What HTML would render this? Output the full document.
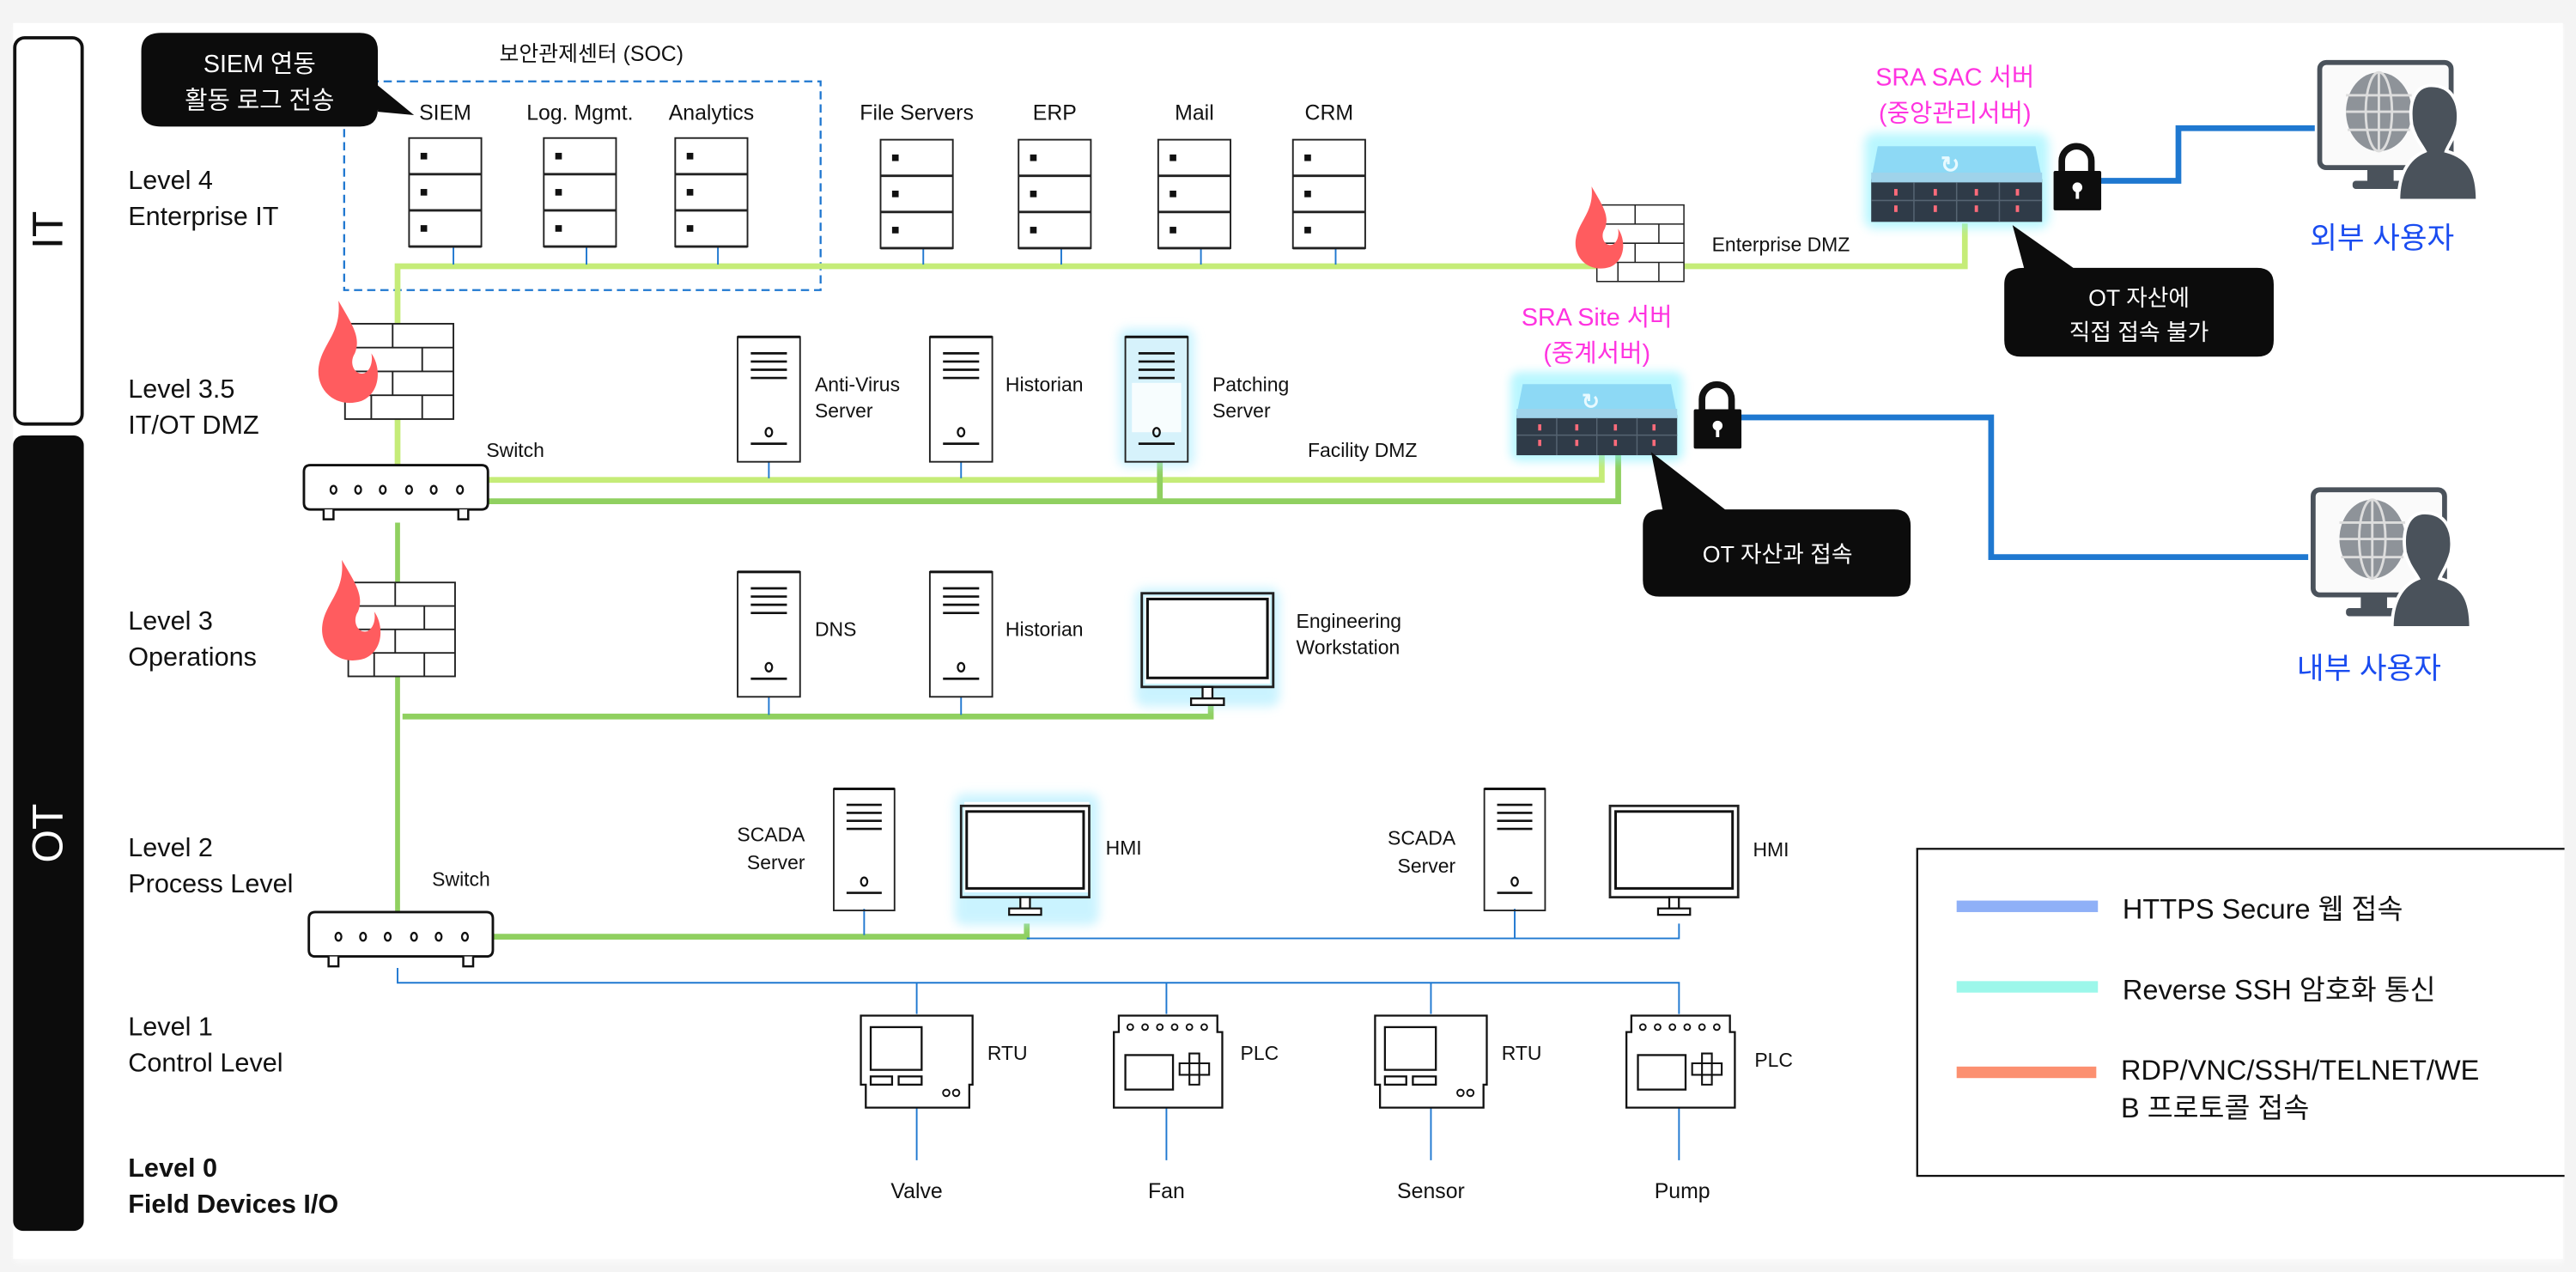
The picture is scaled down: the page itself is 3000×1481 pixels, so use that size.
<!DOCTYPE html>
<html><head><meta charset="utf-8">
<style>
html,body{margin:0;padding:0;background:#f4f4f4;}
svg{display:block;}
text{font-family:"Liberation Sans","Noto Sans CJK KR",sans-serif;}
</style></head>
<body>
<svg width="3000" height="1481" viewBox="0 0 1568 774" preserveAspectRatio="none" xmlns="http://www.w3.org/2000/svg">
<defs>
<filter id="glow" x="-30%" y="-30%" width="160%" height="160%"><feGaussianBlur stdDeviation="3"/></filter>
<filter id="sh" x="-10%" y="-10%" width="120%" height="120%"><feGaussianBlur stdDeviation="2"/></filter>
<symbol id="rack" viewBox="0 0 44 66" overflow="visible">
<rect x="0" y="0" width="44" height="66" fill="#fff" stroke="#222" stroke-width="1"/>
<line x1="0" y1="22" x2="44" y2="22" stroke="#222" stroke-width="1.5"/>
<line x1="0" y1="44" x2="44" y2="44" stroke="#222" stroke-width="1.5"/>
<line x1="0" y1="66" x2="44" y2="66" stroke="#222" stroke-width="1.5"/>
<rect x="7" y="9" width="4" height="4" fill="#111"/><rect x="7" y="31" width="4" height="4" fill="#111"/><rect x="7" y="53" width="4" height="4" fill="#111"/>
</symbol>
<symbol id="tower" viewBox="0 0 38 76" overflow="visible">
<rect x="0" y="0" width="38" height="76" fill="none" stroke="#222" stroke-width="1"/>
<line x1="0" y1="0" x2="38" y2="0" stroke="#111" stroke-width="1.6"/>
<g stroke="#111" stroke-width="1.4"><line x1="8" y1="10" x2="30" y2="10"/><line x1="8" y1="15" x2="30" y2="15"/><line x1="8" y1="20" x2="30" y2="20"/><line x1="8" y1="25" x2="30" y2="25"/><line x1="8" y1="65" x2="30" y2="65"/></g>
<ellipse cx="19" cy="58" rx="2" ry="2.6" fill="none" stroke="#111" stroke-width="1.2"/>
</symbol>
<symbol id="mon" viewBox="0 0 80 70" overflow="visible">
<rect x="0" y="0" width="80" height="57" fill="none" stroke="#222" stroke-width="1.5"/>
<rect x="3.5" y="3.5" width="73" height="48" fill="none" stroke="#111" stroke-width="1.6"/>
<rect x="37" y="57" width="6" height="7" fill="#fff" stroke="#111" stroke-width="1.2"/>
<rect x="30" y="64" width="20" height="4" fill="#fff" stroke="#111" stroke-width="1.2"/>
</symbol>
<symbol id="fw" viewBox="0 0 66 58" overflow="visible">
<g fill="#fff" stroke="#222" stroke-width="1"><rect x="0" y="0" width="66" height="58"/></g>
<g stroke="#222" stroke-width="1">
<line x1="0" y1="14.5" x2="66" y2="14.5"/><line x1="0" y1="29" x2="66" y2="29"/><line x1="0" y1="43.5" x2="66" y2="43.5"/>
<line x1="29" y1="0" x2="29" y2="14.5"/><line x1="47" y1="14.5" x2="47" y2="29"/><line x1="29" y1="29" x2="29" y2="43.5"/>
<line x1="16" y1="43.5" x2="16" y2="58"/><line x1="47" y1="43.5" x2="47" y2="58"/>
</g>
<path d="M-4,-14 C4,0 10,8 6,18 C2,24 6,32 12,30 C16,28 17,22 16,18 C22,26 22,42 10,47 C-6,52 -18,40 -16,26 C-14,12 -2,6 -4,-14 Z" fill="#ff5c5f"/>
</symbol>
<symbol id="sw" viewBox="0 0 112 36" overflow="visible">
<path d="M4,0 H108 Q112,0 112,4 V23 Q112,27 108,27 H4 Q0,27 0,23 V4 Q0,0 4,0 Z" fill="#fff" stroke="#111" stroke-width="1.5"/>
<path d="M12,27 V33 H18 V27 M94,27 V33 H100 V27" fill="#fff" stroke="#111" stroke-width="1.3"/>
<g fill="none" stroke="#111" stroke-width="1.2"><ellipse cx="18" cy="15" rx="1.8" ry="2.4"/><ellipse cx="33" cy="15" rx="1.8" ry="2.4"/><ellipse cx="48" cy="15" rx="1.8" ry="2.4"/><ellipse cx="64" cy="15" rx="1.8" ry="2.4"/><ellipse cx="79" cy="15" rx="1.8" ry="2.4"/><ellipse cx="95" cy="15" rx="1.8" ry="2.4"/></g>
</symbol>
<symbol id="rtu" viewBox="0 0 68 56" overflow="visible">
<path d="M0,0 H68 V42 H66 V56 H3 V42 H0 Z" fill="#fff" stroke="#111" stroke-width="1.2"/>
<rect x="6" y="7" width="31" height="26" fill="none" stroke="#111" stroke-width="1.2"/>
<rect x="6" y="37" width="13" height="5" fill="none" stroke="#111" stroke-width="1.2"/><rect x="23" y="37" width="14" height="5" fill="none" stroke="#111" stroke-width="1.2"/>
<circle cx="52" cy="47" r="2" fill="none" stroke="#111" stroke-width="1"/><circle cx="58" cy="47" r="2" fill="none" stroke="#111" stroke-width="1"/>
</symbol>
<symbol id="plc" viewBox="0 0 66 56" overflow="visible">
<path d="M3,0 H63 V10 H66 V56 H0 V10 H3 Z" fill="#fff" stroke="#111" stroke-width="1.2"/>
<g fill="none" stroke="#111" stroke-width="1"><circle cx="10" cy="7" r="1.8"/><circle cx="19" cy="7" r="1.8"/><circle cx="28" cy="7" r="1.8"/><circle cx="37" cy="7" r="1.8"/><circle cx="46" cy="7" r="1.8"/><circle cx="55" cy="7" r="1.8"/></g>
<rect x="7" y="24" width="29" height="21" fill="none" stroke="#111" stroke-width="1.2"/>
<path d="M46,23 H52 V29 H58 V36 H52 V42 H46 V36 H40 V29 H46 Z M46,29 H52 V36 H46 Z" fill="none" stroke="#111" stroke-width="1.1"/>
</symbol>
<symbol id="sra" viewBox="0 0 104 50" overflow="visible">
<rect x="-4" y="-4" width="112" height="58" rx="6" fill="#7ff0ff" opacity="0.55" filter="url(#glow)"/>
<path d="M4,4 L100,4 L104,24 L0,24 Z" fill="#8dd9f5"/>
<rect x="0" y="24" width="104" height="26" fill="#2f3b48"/>
<rect x="0" y="20" width="104" height="6" fill="#9fd3ea"/>
<text x="48" y="20" font-size="14" fill="#e8faff" font-weight="bold" text-anchor="middle">&#x21bb;</text>
<g fill="#ff6b7a"><rect x="14" y="30" width="2" height="4"/><rect x="38" y="30" width="2" height="4"/><rect x="63" y="30" width="2" height="4"/><rect x="88" y="30" width="2" height="4"/><rect x="14" y="40" width="2" height="4"/><rect x="38" y="40" width="2" height="4"/><rect x="63" y="40" width="2" height="4"/><rect x="88" y="40" width="2" height="4"/></g>
<g stroke="#566472" stroke-width="0.8"><line x1="26" y1="26" x2="26" y2="50"/><line x1="52" y1="26" x2="52" y2="50"/><line x1="78" y1="26" x2="78" y2="50"/><line x1="0" y1="37" x2="104" y2="37"/></g>
</symbol>
<symbol id="lock" viewBox="0 0 32 42" overflow="visible">
<path d="M7,18 V11 A9,9 0 0 1 25,11 V18" fill="none" stroke="#111" stroke-width="4"/>
<rect x="2" y="17" width="29" height="24" rx="1" fill="#0d0d0d"/>
<circle cx="16.5" cy="27" r="3" fill="#fff"/><rect x="15.5" y="28" width="2" height="6" fill="#fff"/>
</symbol>
<symbol id="user" viewBox="0 0 110 100" overflow="visible">
<rect x="4" y="4" width="80" height="64" rx="4" fill="#fafafa" stroke="#4a525b" stroke-width="3"/>
<rect x="33" y="68" width="16" height="10" fill="#4a525b"/><rect x="24" y="76" width="34" height="5" rx="2" fill="#4a525b"/>
<ellipse cx="40" cy="34" rx="20" ry="24" fill="#8e9399"/>
<g stroke="#ddd" stroke-width="1.5" fill="none"><ellipse cx="40" cy="34" rx="8" ry="24"/><line x1="40" y1="10" x2="40" y2="58"/><line x1="20" y1="24" x2="60" y2="24"/><line x1="20" y1="34" x2="60" y2="34"/><line x1="21" y1="45" x2="59" y2="45"/></g>
<path d="M72,18 C84,18 90,28 88,42 C86,50 82,55 81,58 C96,62 100,72 100,88 L52,88 C52,72 58,62 68,58 C66,54 62,50 60,42 C58,28 62,18 72,18 Z" fill="#4a525b" stroke="#fff" stroke-width="2"/>
</symbol>
</defs>

<rect x="9" y="16" width="1552" height="752" fill="#fff" filter="url(#sh)" opacity="0.6"/>
<rect x="8" y="14" width="1552" height="752" fill="#fff"/>

<rect x="9" y="23" width="41" height="235" rx="6" fill="#fff" stroke="#111" stroke-width="2"/>
<text transform="translate(38,140) rotate(-90)" font-size="26" text-anchor="middle" fill="#111">IT</text>
<rect x="8" y="265" width="43" height="484" rx="6" fill="#0c0c0c"/>
<text transform="translate(38,507) rotate(-90)" font-size="26" text-anchor="middle" fill="#fff">OT</text>

<g font-size="16" fill="#111">
<text x="78" y="115">Level 4</text><text x="78" y="137">Enterprise IT</text>
<text x="78" y="242">Level 3.5</text><text x="78" y="264">IT/OT DMZ</text>
<text x="78" y="383">Level 3</text><text x="78" y="405">Operations</text>
<text x="78" y="521">Level 2</text><text x="78" y="543">Process Level</text>
<text x="78" y="630">Level 1</text><text x="78" y="652">Control Level</text>
<text x="78" y="716" font-weight="bold">Level 0</text><text x="78" y="738" font-weight="bold">Field Devices I/O</text>
</g>

<rect x="209.5" y="49.5" width="290" height="127" fill="none" stroke="#1f77d0" stroke-width="1.2" stroke-dasharray="5,3"/>
<text x="360" y="37" font-size="13" text-anchor="middle" fill="#111">보안관제센터 (SOC)</text>

<path d="M98,20 H219 Q230,20 230,31 V52 L252,70 L230,68 V66 Q230,77 219,77 H98 Q86,77 86,66 V31 Q86,20 98,20 Z" fill="#0c0c0c"/>
<text x="158" y="44" font-size="15" fill="#fff" text-anchor="middle">SIEM 연동</text>
<text x="158" y="66" font-size="15" fill="#fff" text-anchor="middle">활동 로그 전송</text>

<polyline points="242,285 242,162 1196,162 1196,136" fill="none" stroke="#c5ec78" stroke-width="3.5"/>
<g font-size="13" fill="#111" text-anchor="middle">
<text x="271" y="73">SIEM</text><text x="353" y="73">Log. Mgmt.</text><text x="433" y="73">Analytics</text>
<text x="558" y="73">File Servers</text><text x="642" y="73">ERP</text><text x="727" y="73">Mail</text><text x="809" y="73">CRM</text>
</g>
<g stroke="#1f77d0" stroke-width="1">
<line x1="276" y1="150" x2="276" y2="161"/><line x1="357" y1="150" x2="357" y2="161"/><line x1="437" y1="150" x2="437" y2="161"/>
<line x1="562" y1="150" x2="562" y2="161"/><line x1="646" y1="150" x2="646" y2="161"/><line x1="731" y1="150" x2="731" y2="161"/><line x1="813" y1="150" x2="813" y2="161"/>
</g>
<use href="#rack" x="249" y="84" width="44" height="66"/>
<use href="#rack" x="331" y="84" width="44" height="66"/>
<use href="#rack" x="411" y="84" width="44" height="66"/>
<use href="#rack" x="536" y="85" width="44" height="66"/>
<use href="#rack" x="620" y="85" width="44" height="66"/>
<use href="#rack" x="705" y="85" width="44" height="66"/>
<use href="#rack" x="787" y="85" width="44" height="66"/>

<use href="#fw" x="972" y="124" width="53" height="48"/>
<text x="1042" y="153" font-size="12" fill="#111">Enterprise DMZ</text>

<text x="1190" y="52" font-size="15" fill="#ff33e0" text-anchor="middle">SRA SAC 서버</text>
<text x="1190" y="74" font-size="15" fill="#ff33e0" text-anchor="middle">(중앙관리서버)</text>
<use href="#sra" x="1139" y="85" width="104" height="50"/>
<polyline points="1270,110 1326,110 1326,78 1409,78" fill="none" stroke="#1f78d0" stroke-width="3.5"/>
<use href="#lock" x="1248" y="87" width="32" height="42"/>
<use href="#user" x="1408" y="34" width="110" height="100"/>
<text x="1450" y="151" font-size="18" fill="#1a4cf0" text-anchor="middle">외부 사용자</text>

<path d="M1232,163 L1225,137 L1262,163 H1374 Q1384,163 1384,173 V207 Q1384,217 1374,217 H1230 Q1220,217 1220,207 V173 Q1220,163 1232,163 Z" fill="#0c0c0c"/>
<text x="1302" y="186" font-size="14" fill="#fff" text-anchor="middle">OT 자산에</text>
<text x="1302" y="207" font-size="14" fill="#fff" text-anchor="middle">직접 접속 불가</text>

<use href="#fw" x="210" y="197" width="66" height="58"/>
<text x="296" y="278" font-size="12" fill="#111">Switch</text>
<polyline points="297,292 975,292 975,275" fill="none" stroke="#c5ec78" stroke-width="3.5"/>
<polyline points="297,305 985,305 985,275" fill="none" stroke="#90d060" stroke-width="3.5"/>
<line x1="706" y1="280" x2="706" y2="305" stroke="#90d060" stroke-width="3.5"/>
<line x1="468" y1="281" x2="468" y2="291" stroke="#1f77d0" stroke-width="1"/>
<line x1="585" y1="281" x2="585" y2="291" stroke="#1f77d0" stroke-width="1"/>
<use href="#sw" x="185" y="283" width="112" height="36"/>
<use href="#tower" x="449" y="205" width="38" height="76"/>
<use href="#tower" x="566" y="205" width="38" height="76"/>
<rect x="681" y="200" width="46" height="84" rx="5" fill="#a8ecff" opacity="0.6" filter="url(#glow)"/>
<rect x="685" y="205" width="38" height="76" fill="#d6f2fb"/>
<rect x="689" y="233" width="30" height="30" fill="#fff" opacity="0.8"/>
<use href="#tower" x="685" y="205" width="38" height="76"/>
<g font-size="12" fill="#111">
<text x="496" y="238">Anti-Virus</text><text x="496" y="254">Server</text>
<text x="612" y="238">Historian</text>
<text x="738" y="238">Patching</text><text x="738" y="254">Server</text>
<text x="796" y="278">Facility DMZ</text>
</g>

<text x="972" y="198" font-size="15" fill="#ff33e0" text-anchor="middle">SRA Site 서버</text>
<text x="972" y="220" font-size="15" fill="#ff33e0" text-anchor="middle">(중계서버)</text>
<use href="#sra" x="921" y="230" width="102" height="47"/>
<polyline points="1055,254 1212,254 1212,339 1405,339" fill="none" stroke="#1f78d0" stroke-width="3.5"/>
<use href="#lock" x="1029" y="232" width="32" height="42"/>
<use href="#user" x="1404" y="294" width="110" height="100"/>
<text x="1442" y="413" font-size="18" fill="#1a4cf0" text-anchor="middle">내부 사용자</text>
<path d="M1012,310 L1005,275 L1050,310 H1153 Q1163,310 1163,320 V353 Q1163,363 1153,363 H1010 Q1000,363 1000,353 V320 Q1000,310 1012,310 Z" fill="#0c0c0c"/>
<text x="1082" y="342" font-size="14" fill="#fff" text-anchor="middle">OT 자산과 접속</text>

<line x1="242" y1="318" x2="242" y2="556" stroke="#90d060" stroke-width="3"/>
<use href="#fw" x="212" y="354" width="65" height="58"/>
<polyline points="245,436 737,436 737,428" fill="none" stroke="#90d060" stroke-width="3.5"/>
<line x1="468" y1="424" x2="468" y2="435" stroke="#1f77d0" stroke-width="1"/>
<line x1="585" y1="424" x2="585" y2="435" stroke="#1f77d0" stroke-width="1"/>
<use href="#tower" x="449" y="348" width="38" height="76"/>
<use href="#tower" x="566" y="348" width="38" height="76"/>
<rect x="691" y="358" width="88" height="72" rx="6" fill="#a8ecff" opacity="0.6" filter="url(#glow)"/>
<rect x="697" y="363" width="76" height="53" fill="#fff"/>
<use href="#mon" x="695" y="361" width="80" height="70"/>
<g font-size="12" fill="#111">
<text x="496" y="387">DNS</text><text x="612" y="387">Historian</text>
<text x="789" y="382">Engineering</text><text x="789" y="398">Workstation</text>
</g>

<text x="263" y="539" font-size="12" fill="#111">Switch</text>
<polyline points="300,570 625,570 625,562" fill="none" stroke="#90d060" stroke-width="3.5"/>
<polyline points="625,571 1022,571 1022,562" fill="none" stroke="#1f78d0" stroke-width="1"/>
<line x1="526" y1="553" x2="526" y2="569" stroke="#1f77d0" stroke-width="1"/>
<line x1="922" y1="553" x2="922" y2="571" stroke="#1f77d0" stroke-width="1"/>
<use href="#sw" x="188" y="555" width="112" height="36"/>
<use href="#tower" x="507" y="480" width="38" height="74"/>
<use href="#tower" x="903" y="480" width="38" height="74"/>
<rect x="581" y="483" width="88" height="80" rx="6" fill="#a8ecff" opacity="0.6" filter="url(#glow)"/>
<rect x="587" y="488" width="76" height="55" fill="#fff"/>
<use href="#mon" x="585" y="487" width="78" height="75"/>
<use href="#mon" x="980" y="487" width="78" height="75"/>
<g font-size="12" fill="#111">
<text x="490" y="512" text-anchor="end">SCADA</text><text x="490" y="529" text-anchor="end">Server</text>
<text x="886" y="514" text-anchor="end">SCADA</text><text x="886" y="531" text-anchor="end">Server</text>
<text x="673" y="520">HMI</text><text x="1067" y="521">HMI</text>
</g>

<polyline points="242,589 242,598 1022,598 1022,617" fill="none" stroke="#1f78d0" stroke-width="1"/>
<g stroke="#1f78d0" stroke-width="1">
<line x1="558" y1="598" x2="558" y2="617"/><line x1="710" y1="598" x2="710" y2="617"/><line x1="871" y1="598" x2="871" y2="617"/>
<line x1="558" y1="673" x2="558" y2="706"/><line x1="710" y1="673" x2="710" y2="706"/><line x1="871" y1="673" x2="871" y2="706"/><line x1="1022" y1="673" x2="1022" y2="706"/>
</g>
<use href="#rtu" x="524" y="618" width="68" height="56"/>
<use href="#plc" x="678" y="618" width="66" height="56"/>
<use href="#rtu" x="837" y="618" width="68" height="56"/>
<use href="#plc" x="990" y="618" width="66" height="56"/>
<g font-size="12" fill="#111">
<text x="601" y="645">RTU</text><text x="755" y="645">PLC</text><text x="914" y="645">RTU</text><text x="1068" y="649">PLC</text>
</g>
<g font-size="13" fill="#111" text-anchor="middle">
<text x="558" y="729">Valve</text><text x="710" y="729">Fan</text><text x="871" y="729">Sensor</text><text x="1024" y="729">Pump</text>
</g>

<rect x="1167" y="516.5" width="400" height="199" fill="#fff" stroke="#111" stroke-width="1.2"/>
<rect x="1191" y="548" width="86" height="7" fill="#8fb0f7"/>
<rect x="1191" y="597" width="86" height="7" fill="#9cf7ea"/>
<rect x="1191" y="649" width="85" height="7" fill="#fc9070"/>
<g font-size="17" fill="#111">
<text x="1292" y="559">HTTPS Secure 웹 접속</text>
<text x="1292" y="608">Reverse SSH 암호화 통신</text>
<text x="1291" y="657">RDP/VNC/SSH/TELNET/WE</text>
<text x="1291" y="680">B 프로토콜 접속</text>
</g>
<rect x="1561" y="0" width="7" height="774" fill="#f4f4f4"/>
</svg>
</body></html>
